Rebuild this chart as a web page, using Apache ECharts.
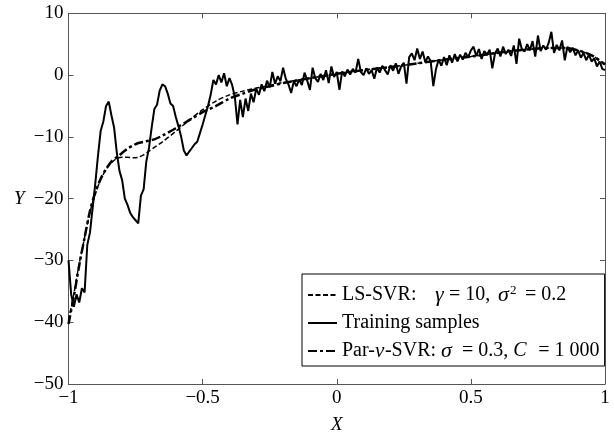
<!DOCTYPE html>
<html><head><meta charset="utf-8">
<script src="https://cdn.jsdelivr.net/npm/echarts@6/dist/echarts.min.js"></script>
<style>html,body{margin:0;padding:0;background:#fff}#c{width:614px;height:439px}</style>
</head><body><div id="c"></div>
<script>
// ---- data ----
const xTicks = [-1, -0.5, 0, 0.5, 1];
const yTicks = [-50, -40, -30, -20, -10, 0, 10];
const seriesNames = ['LS-SVR', 'Training samples', 'Par-v-SVR'];

// training samples: sampled at x = -1.00, -0.99, ..., 1.00
const trainStart = -1, trainStep = 0.01;
const trainY = [
-30.0,-35.5,-37.5,-35.5,-36.8,-34.5,-35.2,-27.5,-25.5,-21.5,
-17.5,-13.0,-9.0,-7.5,-5.0,-4.3,-6.5,-8.5,-12.5,-15.5,
-17.0,-20.0,-21.0,-22.3,-23.0,-23.5,-24.0,-19.5,-18.5,-14.0,
-11.8,-8.5,-5.5,-4.8,-2.5,-1.5,-1.8,-3.0,-4.6,-5.0,
-6.8,-8.3,-10.0,-12.2,-13.0,-12.4,-11.8,-11.2,-10.8,-9.4,
-8.0,-6.5,-5.0,-3.2,-0.8,-1.5,0.0,-1.2,0.3,-1.8,
-0.5,-1.6,-3.5,-8.0,-4.0,-6.8,-3.8,-5.8,-3.0,-4.4,
-2.2,-3.2,-1.5,-2.6,-0.9,-2.0,0.5,-1.4,-0.2,-1.0,
1.2,-0.6,-1.5,-2.9,-1.0,-1.8,-0.7,-1.6,0.4,-0.9,
-2.4,1.2,-0.5,-1.1,0.2,-0.8,0.8,-1.3,1.4,-0.3,
0.5,-2.4,0.6,-0.2,0.9,0.1,1.0,0.4,2.6,0.5,
0.0,1.1,0.2,0.8,-0.6,1.2,0.4,1.5,0.8,0.1,
1.6,0.7,1.9,0.2,1.4,2.0,-1.4,2.9,3.5,2.4,
4.3,2.6,3.8,2.1,3.0,2.3,-1.8,1.0,2.5,1.5,
2.9,1.6,3.2,2.0,3.4,2.2,3.3,2.5,3.6,2.9,
4.0,4.6,3.1,4.2,2.6,3.9,3.3,4.1,1.1,3.5,
4.3,3.0,4.6,3.4,4.1,3.1,4.8,1.8,5.9,4.2,
3.8,5.0,4.0,5.5,3.0,6.4,3.9,4.8,4.1,5.2,
7.0,3.6,4.9,4.0,5.6,2.4,4.6,3.7,4.4,3.2,
4.0,2.8,3.6,2.4,3.3,2.2,2.7,1.4,2.2,1.0,
0.8
];

// LS-SVR fit (gamma = 10, sigma^2 = 0.2)
const lsX = [-1,-0.98,-0.96,-0.94,-0.92,-0.9,-0.88,-0.86,-0.84,-0.82,-0.8,-0.78,-0.76,-0.74,-0.72,-0.7,-0.68,-0.65,-0.6,-0.55,-0.5,-0.45,-0.4,-0.35,-0.3,-0.25,-0.2,-0.1,0,0.1,0.2,0.3,0.4,0.5,0.6,0.7,0.8,0.85,0.9,0.95,1];
const lsY = [-39.7,-35.4,-30.5,-26.3,-22.2,-19.2,-16.9,-15.3,-14.2,-13.5,-13.3,-13.3,-13.4,-13.3,-12.9,-12.3,-11.7,-10.8,-9.1,-7.3,-5.6,-4.2,-3.2,-2.6,-2.1,-1.7,-1.2,-0.5,0.2,0.8,1.3,1.9,2.5,3.0,3.6,4.1,4.4,4.4,4.0,3.2,1.8];

// Par-v-SVR fit (sigma = 0.3, C = 1000)
const pvX = [-1,-0.98,-0.96,-0.94,-0.92,-0.9,-0.88,-0.86,-0.84,-0.82,-0.8,-0.78,-0.76,-0.74,-0.72,-0.7,-0.68,-0.65,-0.6,-0.55,-0.5,-0.45,-0.4,-0.35,-0.3,-0.25,-0.2,-0.1,0,0.1,0.2,0.3,0.4,0.5,0.6,0.7,0.8,0.85,0.9,0.95,1];
const pvY = [-40.3,-35.8,-30.8,-26.3,-22.0,-19.0,-16.8,-15.2,-14.0,-13.3,-12.6,-11.9,-11.4,-11.0,-10.8,-10.6,-10.4,-9.8,-8.6,-7.3,-6.0,-5.0,-3.8,-3.0,-2.3,-1.8,-1.3,-0.5,0.2,0.8,1.3,1.9,2.5,3.0,3.6,4.1,4.4,4.4,4.0,3.2,1.7];

// ---- build ----
const serif = "'Liberation Serif','Times New Roman',serif";
const trainData = trainY.map((y, i) => [+(trainStart + i * trainStep).toFixed(2), y]);
const lsData = lsX.map((x, i) => [x, lsY[i]]);
const pvData = pvX.map((x, i) => [x, pvY[i]]);
const fmt = v => String(v).replace('-', '\u2212');
const axisCol = '#555';

const chart = echarts.init(document.getElementById('c'), null, {renderer: 'canvas'});
const baseX = {
  type: 'value', min: xTicks[0], max: xTicks[xTicks.length - 1], interval: 0.5,
  splitLine: {show: false},
  axisLine: {show: true, onZero: false, lineStyle: {color: axisCol, width: 1}},
  axisTick: {show: true, inside: true, length: 5, lineStyle: {color: axisCol}}
};
const baseY = {
  type: 'value', min: yTicks[0], max: yTicks[yTicks.length - 1], interval: 10,
  splitLine: {show: false},
  axisLine: {show: true, onZero: false, lineStyle: {color: axisCol, width: 1}},
  axisTick: {show: true, inside: true, length: 5, lineStyle: {color: axisCol}}
};
const FS = 20;
function tok(w, italic, size) {
  const o = {fontFamily: serif, fontSize: size || FS, color: '#000', lineHeight: 22};
  if (w) o.width = w;
  if (italic) o.fontStyle = 'italic';
  return o;
}
const rich = {
  n: tok(0, false),
  a1: tok(93, false), g1: tok(14, true, 22), a2: tok(49, false), g2: tok(12, true, 22),
  s: {fontFamily: serif, fontSize: 13, color: '#000', width: 15, verticalAlign: 'top', lineHeight: 22, padding: [0, 0, 9, 0]},
  nu: tok(10, true, 21), g3: tok(21, true, 22), c: tok(25, true)
};
const legendText = {
  'LS-SVR': '{a1|LS-SVR:}{g1|\u03b3}{a2|= 10,}{g2|\u03c3}{s|2}{n|= 0.2}',
  'Training samples': '{n|Training samples}',
  'Par-v-SVR': '{n|Par-}{nu|\u03bd}{n|-SVR: }{g3|\u03c3}{n|= 0.3, }{c|C}{n|= 1 000}'
};

chart.setOption({
  animation: false,
  backgroundColor: '#fff',
  grid: {left: 68.5, right: 9, top: 13.3, bottom: 51, containLabel: false},
  xAxis: [
    Object.assign({}, baseX, {
      position: 'bottom',
      axisLabel: {show: true, margin: 5, color: '#000', fontFamily: serif, fontSize: 19, showMinLabel: true, showMaxLabel: true, formatter: fmt},
      name: 'X', nameLocation: 'middle', nameGap: 31,
      nameTextStyle: {fontFamily: serif, fontSize: 19, fontStyle: 'italic', color: '#000'}
    }),
    Object.assign({}, baseX, {position: 'top', axisLabel: {show: false}})
  ],
  yAxis: [
    Object.assign({}, baseY, {
      position: 'left',
      axisLabel: {show: true, margin: 5, color: '#000', fontFamily: serif, fontSize: 19, showMinLabel: true, showMaxLabel: true, formatter: fmt},
      name: 'Y', nameLocation: 'middle', nameRotate: 0, nameGap: 44,
      nameTextStyle: {fontFamily: serif, fontSize: 19, fontStyle: 'italic', color: '#000'}
    }),
    Object.assign({}, baseY, {position: 'right', axisLabel: {show: false}})
  ],
  legend: {
    data: seriesNames,
    orient: 'vertical', left: 302, top: 274,
    itemWidth: 29, itemHeight: 14, itemGap: 7,
    padding: [10, 5, 4, 5],
    borderColor: '#000', borderWidth: 1, backgroundColor: '#fff',
    itemStyle: {opacity: 0},
    formatter: name => legendText[name],
    textStyle: {fontFamily: serif, fontSize: FS, color: '#000', rich: rich}
  },
  series: [
    {name: seriesNames[0], type: 'line', data: lsData, smooth: 0.3, symbol: 'none', showSymbol: false,
     lineStyle: {color: '#000', width: 1.5, type: [5, 2.5]}, itemStyle: {color: '#000'}, z: 3},
    {name: seriesNames[1], type: 'line', data: trainData, smooth: false, symbol: 'none', showSymbol: false,
     lineStyle: {color: '#000', width: 2}, itemStyle: {color: '#000'}, z: 2},
    {name: seriesNames[2], type: 'line', data: pvData, smooth: 0.3, symbol: 'none', showSymbol: false,
     lineStyle: {color: '#000', width: 2.5, type: [9, 3, 3, 3]}, itemStyle: {color: '#000'}, z: 4}
  ]
});
</script>
</body></html>
